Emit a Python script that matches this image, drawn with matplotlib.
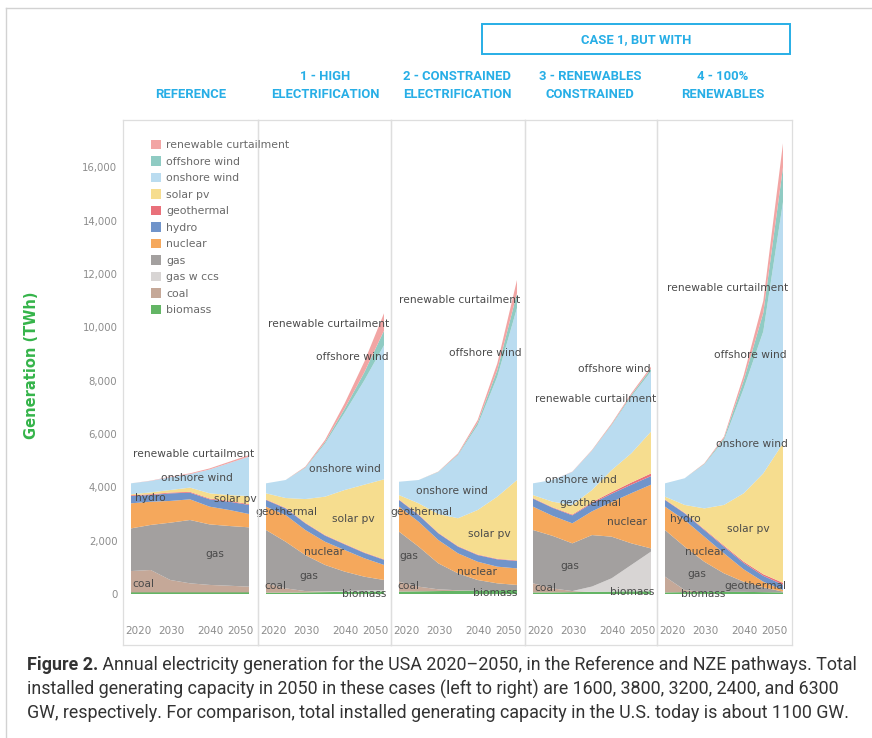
import matplotlib
matplotlib.use("Agg")
import matplotlib.pyplot as plt
from matplotlib.patches import Patch, Rectangle
from matplotlib.lines import Line2D
from matplotlib.ticker import FuncFormatter

# ---------------------------------------------------------------- data
years = [2020, 2025, 2030, 2035, 2040, 2045, 2050]

scenarios = ["REFERENCE", "1 - HIGH\nELECTRIFICATION", "2 - CONSTRAINED\nELECTRIFICATION",
             "3 - RENEWABLES\nCONSTRAINED", "4 - 100%\nRENEWABLES"]

# generation by source (TWh); one row per scenario, in the order above
biomass = [[60, 60, 60, 60, 60, 60, 60],
           [50, 50, 60, 70, 80, 90, 100],
           [90, 100, 110, 120, 130, 140, 150],
           [60, 60, 70, 80, 90, 100, 100],
           [60, 70, 80, 80, 80, 70, 60]]
coal = [[800, 840, 465, 340, 280, 250, 215],
        [350, 160, 50, 20, 0, 0, 0],
        [370, 175, 65, 20, 0, 0, 0],
        [340, 150, 40, 0, 0, 0, 0],
        [590, 80, 0, 0, 0, 0, 0]]
gas_ccs = [[0, 0, 0, 0, 0, 0, 0],
           [0, 0, 0, 10, 30, 40, 50],
           [0, 0, 0, 0, 0, 0, 0],
           [0, 0, 0, 200, 500, 990, 1490],
           [0, 0, 0, 0, 0, 0, 0]]
gas = [[1600, 1690, 2150, 2375, 2270, 2240, 2225],
       [2000, 1750, 1350, 990, 730, 520, 375],
       [1880, 1500, 975, 635, 395, 260, 190],
       [2000, 1970, 1790, 1930, 1560, 810, 120],
       [1750, 1625, 1130, 695, 380, 180, 30]]
nuclear = [[940, 870, 815, 775, 665, 600, 500],
           [875, 1000, 940, 870, 810, 690, 565],
           [935, 935, 875, 750, 685, 625, 620],
           [875, 750, 750, 890, 1300, 1880, 2390],
           [875, 1000, 940, 750, 465, 210, 60]]
hydro = [[275, 250, 285, 250, 275, 310, 340],
         [250, 250, 250, 230, 210, 200, 190],
         [250, 250, 250, 250, 250, 275, 280],
         [300, 300, 300, 300, 310, 320, 320],
         [250, 250, 250, 250, 240, 220, 200]]
geothermal = [[30, 30, 30, 30, 30, 30, 30],
              [20, 20, 20, 20, 20, 20, 20],
              [20, 20, 20, 20, 20, 20, 20],
              [20, 20, 30, 40, 60, 80, 100],
              [20, 20, 30, 40, 50, 60, 70]]
solar_pv = [[35, 70, 95, 160, 195, 220, 305],
            [230, 370, 890, 1440, 2020, 2540, 3000],
            [165, 420, 705, 1045, 1670, 2330, 3015],
            [115, 210, 360, 460, 830, 1095, 1570],
            [105, 295, 780, 1525, 2560, 3785, 5230]]
onshore_wind = [[410, 430, 480, 505, 895, 1200, 1475],
                [375, 675, 1165, 1985, 2900, 3910, 5025],
                [500, 875, 1570, 2365, 3175, 4500, 6450],
                [440, 815, 1240, 1470, 1680, 2130, 2255],
                [500, 1000, 1650, 2420, 3925, 5325, 9050]]
offshore_wind = [[0, 0, 0, 0, 0, 0, 0],
                 [0, 0, 20, 60, 150, 300, 550],
                 [0, 0, 10, 30, 100, 250, 550],
                 [0, 0, 0, 10, 30, 60, 100],
                 [0, 0, 20, 80, 300, 700, 1300]]
curtailment = [[0, 10, 20, 30, 40, 50, 60],
               [0, 0, 30, 80, 200, 400, 650],
               [0, 0, 10, 40, 100, 250, 500],
               [0, 0, 10, 20, 40, 60, 80],
               [0, 0, 20, 60, 200, 450, 900]]

source_names = ["biomass", "coal", "gas w ccs", "gas", "nuclear", "hydro", "geothermal",
                "solar pv", "onshore wind", "offshore wind", "renewable curtailment"]
source_series = [biomass, coal, gas_ccs, gas, nuclear, hydro, geothermal,
                 solar_pv, onshore_wind, offshore_wind, curtailment]
source_colors = ["#63b565", "#c5a898", "#d8d5d4", "#a3a09f", "#f5a85c", "#7094ca",
                 "#e9707a", "#f6dd8f", "#badcf0", "#8fcbc3", "#f2a5a4"]

y_ticks = [0, 2000, 4000, 6000, 8000, 10000, 12000, 14000, 16000]
x_ticks = [2020, 2030, 2040, 2050]

# in-area labels: (panel, text, year, TWh)
area_labels = [
    (0, "renewable curtailment", 2036.0, 5250), (0, "onshore wind", 2036.8, 4350),
    (0, "hydro", 2024.8, 3600), (0, "solar pv", 2046.4, 3560),
    (0, "gas", 2041.4, 1500), (0, "coal", 2023.1, 375),
    (1, "renewable curtailment", 2035.8, 10125), (1, "offshore wind", 2041.9, 8890),
    (1, "onshore wind", 2040.1, 4690), (1, "geothermal", 2025.3, 3075),
    (1, "solar pv", 2042.1, 2810), (1, "nuclear", 2034.7, 1575),
    (1, "gas", 2030.9, 675), (1, "coal", 2022.5, 300), (1, "biomass", 2044.9, 0),
    (2, "renewable curtailment", 2035.5, 11025), (2, "offshore wind", 2041.9, 9040),
    (2, "onshore wind", 2033.5, 3860), (2, "geothermal", 2025.6, 3075),
    (2, "solar pv", 2042.9, 2250), (2, "nuclear", 2039.8, 825),
    (2, "gas", 2022.5, 1425), (2, "coal", 2022.3, 300), (2, "biomass", 2044.4, 40),
    (3, "offshore wind", 2040.8, 8440), (3, "renewable curtailment", 2035.8, 7310),
    (3, "onshore wind", 2032.2, 4275), (3, "geothermal", 2034.5, 3410),
    (3, "nuclear", 2043.9, 2700), (3, "gas", 2029.4, 1050),
    (3, "coal", 2023.1, 225), (3, "biomass", 2045.2, 75),
    (4, "renewable curtailment", 2035.8, 11475), (4, "offshore wind", 2041.6, 8960),
    (4, "onshore wind", 2042.1, 5625), (4, "hydro", 2025.1, 2810),
    (4, "solar pv", 2041.1, 2440), (4, "nuclear", 2030.2, 1575),
    (4, "gas", 2028.1, 750), (4, "biomass", 2029.7, 0), (4, "geothermal", 2043.1, 300),
]

caption_bold = "Figure 2."
caption_lines = [
    " Annual electricity generation for the USA 2020\u20132050, in the Reference and NZE pathways. Total",
    "installed generating capacity in 2050 in these cases (left to right) are 1600, 3800, 3200, 2400, and 6300",
    "GW, respectively. For comparison, total installed generating capacity in the U.S. today is about 1100 GW.",
]

# ---------------------------------------------------------------- layout
W, H = 872, 738
fig = plt.figure(figsize=(W / 100, H / 100), dpi=100, facecolor="white")
renderer = fig.canvas.get_renderer()


def fx(px):
    return px / W


def fy(py):
    return 1 - py / H


def text_width(s, **kw):
    t = fig.text(0, 0, s, **kw)
    w = t.get_window_extent(renderer).width
    t.remove()
    return w


BLUE = "#27aee6"
GRID = "#dedede"
LABEL = "#4a4a4a"

panel_edges = [123, 258, 391, 525, 657, 792]
top_px, bottom_px, zero_px = 120, 645, 594
twh_per_px = 37.5
px_per_year = 3.933

# page frame
fig.add_artist(Line2D([fx(6), fx(6)], [0, fy(8)], color="#d2d2d2", lw=1.0))
fig.add_artist(Line2D([fx(6), 1], [fy(8), fy(8)], color="#d2d2d2", lw=1.0))

axes = []
for i in range(5):
    left, right = panel_edges[i], panel_edges[i + 1]
    ax = fig.add_axes([fx(left), fy(bottom_px), fx(right - left), (bottom_px - top_px) / H])
    ax.set_facecolor("none")
    axes.append(ax)
    vals = [series[i] for series in source_series]
    ax.stackplot(years, vals, colors=source_colors, linewidth=0)
    ax.set_xlim(2020 - 8 / px_per_year, 2020 + (right - left - 8) / px_per_year)
    ax.set_ylim(-(bottom_px - zero_px) * twh_per_px, (zero_px - top_px) * twh_per_px)
    for sp in ax.spines.values():
        sp.set_color(GRID)
        sp.set_linewidth(0.9)
    ax.set_xticks([])
    if i == 0:
        ax.set_yticks(y_ticks)
        ax.yaxis.set_major_formatter(FuncFormatter(lambda v, p: f"{int(v):,}"))
        ax.tick_params(axis="y", length=0, pad=4, labelsize=7.3, labelcolor="#8c8c8c")
    else:
        ax.set_yticks([])
    # year labels, nudged inward at the panel edges
    for yr, dx in zip(x_ticks, [5.3, 1.0, 0.5, -6.0]):
        ax.annotate(str(yr), xy=(yr, 0), xycoords=("data", "axes fraction"),
                    xytext=(dx, 10), textcoords="offset points",
                    ha="center", va="center", fontsize=7.5, color="#8c8c8c")

# keep the first panel (with its legend) above its neighbours
axes[0].set_zorder(3)

for panel, text, yr, val in area_labels:
    axes[panel].text(yr, val, text, ha="center", va="center", fontsize=7.7,
                     color=LABEL, clip_on=False, zorder=5)

# legend
handles = [Patch(facecolor=c, edgecolor="none") for c in source_colors[::-1]]
leg = axes[0].legend(handles, source_names[::-1], loc="upper left",
                     bbox_to_anchor=(fx(151), fy(140)), bbox_transform=fig.transFigure,
                     frameon=False, fontsize=7.8, borderpad=0, borderaxespad=0,
                     handlelength=0.95, handleheight=0.95, handletextpad=0.45,
                     labelspacing=0.56)
for t in leg.get_texts():
    t.set_color("#6a6a6a")

# headers (size chosen so that "ELECTRIFICATION" spans ~108 px)
hdr_kw = dict(family="Roboto", weight="bold")
hdr_size = 10 * 108 / text_width("ELECTRIFICATION", fontsize=10, **hdr_kw)
header_font = dict(fontsize=hdr_size, color=BLUE, **hdr_kw)
header_x = [191, 325, 457, 590, 723]
for name, x in zip(scenarios, header_x):
    fig.text(fx(x), fy(101), name, ha="center", va="bottom", linespacing=1.5, **header_font)

fig.add_artist(Rectangle((fx(482), fy(54)), fx(790 - 482), (54 - 24) / H,
                         transform=fig.transFigure, fill=False, edgecolor=BLUE, lw=1.4))
fig.text(fx(636), fy(40), "CASE 1, BUT WITH", ha="center", va="center", **header_font)

# y-axis title
fig.text(fx(31), fy(365), "Generation (TWh)", rotation=90, ha="center", va="center",
         fontsize=10.5, color="#35b44a", fontweight="bold")

# caption, sized so that the first line runs from x=27 to x=858
cap_family = "Roboto"
w_trial = (text_width(caption_bold, fontsize=10, family=cap_family, weight="bold")
           + text_width(caption_lines[0], fontsize=10, family=cap_family))
cap_size = 10 * (858 - 27) / w_trial
cap_font = dict(family=cap_family, fontsize=cap_size, color="#333333")
t0 = fig.text(fx(27), fy(665), caption_bold, ha="left", va="center", fontweight="bold", **cap_font)
bb = t0.get_window_extent(renderer)
fig.text(bb.x1 / W, fy(665), caption_lines[0], ha="left", va="center", **cap_font)
fig.text(fx(27), fy(689), caption_lines[1], ha="left", va="center", **cap_font)
fig.text(fx(27), fy(713), caption_lines[2], ha="left", va="center", **cap_font)

fig.savefig("out.png", dpi=100, facecolor="white")
